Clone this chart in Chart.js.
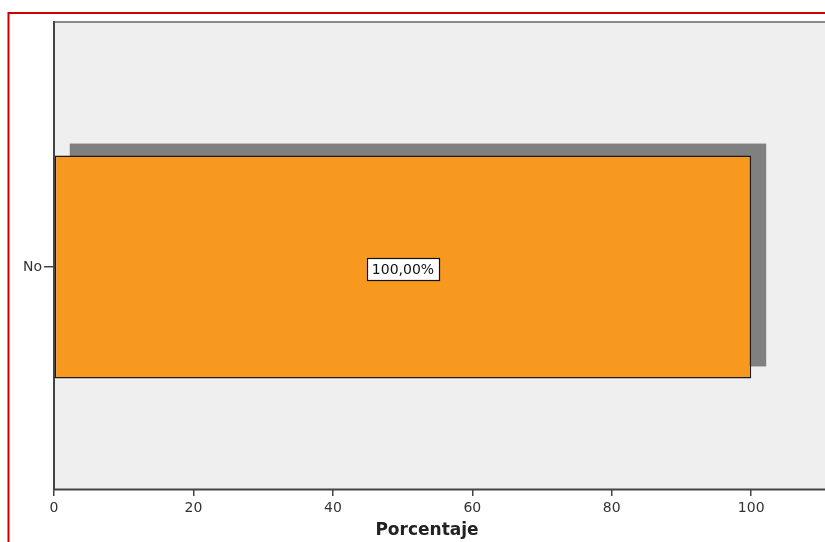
<!DOCTYPE html>
<html>
<head>
<meta charset="utf-8">
<script src="https://cdn.jsdelivr.net/npm/chart.js@4.4.0/dist/chart.umd.min.js"></script>
<style>
  html, body { margin: 0; padding: 0; background: #fff; overflow: hidden; }
  #wrap { width: 825px; height: 542px; }
</style>
</head>
<body>
<div id="wrap"><canvas id="myChart" width="825" height="542"></canvas></div>
<script>
// data
const categories = ['No'];
const porcentaje = [100];
const xTicks = [0, 20, 40, 60, 80, 100];
const xTitle = 'Porcentaje';

const FONT = "'DejaVu Sans', sans-serif";

// red frame, grey plot background that runs off to the right, borders
const framePlugin = {
  id: 'frame',
  beforeDraw(chart) {
    const c = chart.ctx, a = chart.chartArea, W = chart.width, H = chart.height;
    c.save();
    c.fillStyle = '#efefef';
    c.fillRect(a.left, a.top - 24, W - a.left, a.bottom - a.top + 24);
    c.strokeStyle = '#8a8a8a';
    c.lineWidth = 2;
    c.beginPath();
    c.moveTo(a.left, a.top - 23);
    c.lineTo(W, a.top - 23);
    c.stroke();
    c.strokeStyle = '#cc0000';
    c.lineWidth = 2;
    c.beginPath();
    c.moveTo(8.5, H);
    c.lineTo(8.5, 13);
    c.lineTo(W, 13);
    c.stroke();
    c.restore();
  },
  afterDraw(chart) {
    const c = chart.ctx, a = chart.chartArea, W = chart.width;
    c.save();
    c.strokeStyle = '#444';
    c.lineWidth = 2;
    c.beginPath();
    c.moveTo(a.left - 1, a.bottom + 0.5);
    c.lineTo(W, a.bottom + 0.5);
    c.stroke();
    c.beginPath();
    c.moveTo(a.left, a.top - 24);
    c.lineTo(a.left, a.bottom);
    c.stroke();
    c.restore();
  }
};

// drop shadow behind bars and the boxed value label
const barExtras = {
  id: 'barExtras',
  beforeDatasetsDraw(chart) {
    const c = chart.ctx;
    c.save();
    c.fillStyle = '#808080';
    chart.getDatasetMeta(0).data.forEach(bar => {
      const p = bar.getProps(['x', 'y', 'base', 'height'], true);
      c.fillRect(p.base + 15, p.y - p.height / 2 - 12, p.x - p.base, p.height);
    });
    c.restore();
  },
  afterDatasetsDraw(chart) {
    const c = chart.ctx;
    c.save();
    c.font = '14px ' + FONT;
    c.textAlign = 'center';
    c.textBaseline = 'middle';
    chart.getDatasetMeta(0).data.forEach((bar, i) => {
      const p = bar.getProps(['x', 'y', 'base'], true);
      const txt = porcentaje[i].toFixed(2).replace('.', ',') + '%';
      const cx = (p.x + p.base) / 2;
      const w = c.measureText(txt).width + 10;
      const h = 22;
      c.fillStyle = '#fff';
      c.fillRect(cx - w / 2, p.y - h / 2 + 2, w, h);
      c.strokeStyle = '#111';
      c.lineWidth = 1.2;
      c.strokeRect(Math.round(cx - w / 2) + 0.5, Math.round(p.y - h / 2 + 2) + 0.5, Math.round(w), h);
      c.fillStyle = '#111';
      c.fillText(txt, cx, p.y + 3);
    });
    c.restore();
  }
};

const ctx = document.getElementById('myChart');
new Chart(ctx, {
  type: 'bar',
  data: {
    labels: categories,
    datasets: [{
      data: porcentaje,
      backgroundColor: '#f7991f',
      borderColor: '#1a1a1a',
      borderWidth: 1.5,
      borderSkipped: false,
      categoryPercentage: 1,
      barPercentage: 0.502
    }]
  },
  options: {
    indexAxis: 'y',
    responsive: false,
    animation: false,
    layout: { padding: { top: 45, left: 0, right: 25, bottom: 0 } },
    plugins: {
      legend: { display: false },
      tooltip: { enabled: false }
    },
    scales: {
      x: {
        min: 0,
        max: 107,
        afterBuildTicks: scale => { scale.ticks = xTicks.map(v => ({ value: v })); },
        afterFit: scale => { scale.height = 53; },
        border: { display: false },
        grid: { drawOnChartArea: false, drawTicks: true, tickLength: 7, color: '#444', lineWidth: 1.5 },
        ticks: { color: '#333', padding: 4, maxRotation: 0, font: { family: FONT, size: 14 } },
        title: {
          display: true,
          text: xTitle,
          color: '#222',
          padding: { top: 0, bottom: 1 },
          font: { family: FONT, size: 17, weight: 'bold' }
        }
      },
      y: {
        afterFit: scale => { scale.width = 54; },
        border: { display: false },
        grid: { offset: false, drawOnChartArea: false, drawTicks: true, tickLength: 10, color: '#444', lineWidth: 1.5 },
        ticks: { color: '#333', padding: 2, font: { family: FONT, size: 14 } }
      }
    }
  },
  plugins: [framePlugin, barExtras]
});
</script>
</body>
</html>
